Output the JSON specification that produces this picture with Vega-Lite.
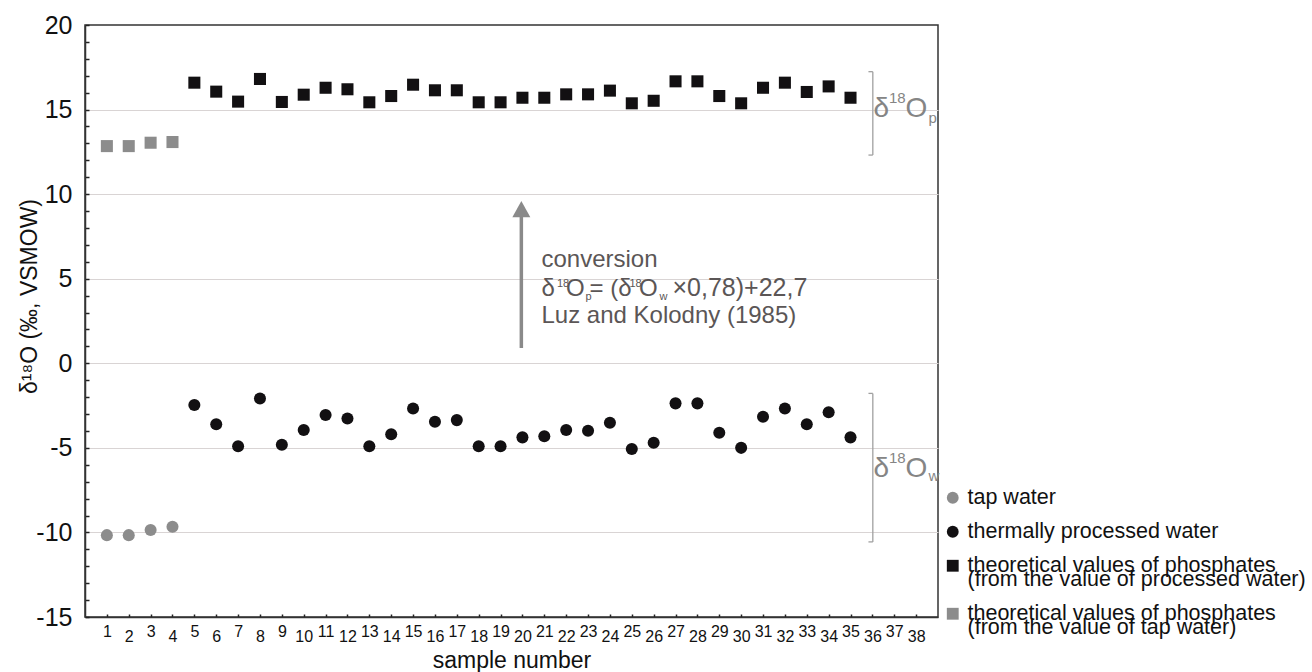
{
  "$schema": "https://vega.github.io/schema/vega-lite/v6.json",
  "width": 853,
  "height": 592,
  "autosize": {"type": "none"},
  "padding": {"left": 85, "top": 25, "right": 374, "bottom": 55},
  "background": "white",
  "config": {
    "font": "Liberation Sans",
    "view": {"stroke": "#333333", "strokeWidth": 1.5},
    "axis": {
      "labelFont": "Liberation Sans",
      "titleFont": "Liberation Sans",
      "labelColor": "#111111",
      "titleColor": "#111111",
      "titleFontWeight": "normal",
      "domainColor": "#333333",
      "domainWidth": 1.5,
      "tickColor": "#222222",
      "gridColor": "#d9d4d4",
      "gridWidth": 1
    },
    "legend": {"labelFont": "Liberation Sans"},
    "style": {"guide-label": {"lineHeight": 14}}
  },
  "layer": [
    {
      "data": {
        "values": [
          {"sample": 1, "value": -10.16, "series": "tap water"},
          {"sample": 2, "value": -10.16, "series": "tap water"},
          {"sample": 3, "value": -9.86, "series": "tap water"},
          {"sample": 4, "value": -9.67, "series": "tap water"},
          {"sample": 5, "value": -2.47, "series": "thermally processed water"},
          {"sample": 6, "value": -3.6, "series": "thermally processed water"},
          {"sample": 7, "value": -4.9, "series": "thermally processed water"},
          {"sample": 8, "value": -2.08, "series": "thermally processed water"},
          {"sample": 9, "value": -4.82, "series": "thermally processed water"},
          {"sample": 10, "value": -3.95, "series": "thermally processed water"},
          {"sample": 11, "value": -3.06, "series": "thermally processed water"},
          {"sample": 12, "value": -3.26, "series": "thermally processed water"},
          {"sample": 13, "value": -4.9, "series": "thermally processed water"},
          {"sample": 14, "value": -4.2, "series": "thermally processed water"},
          {"sample": 15, "value": -2.67, "series": "thermally processed water"},
          {"sample": 16, "value": -3.46, "series": "thermally processed water"},
          {"sample": 17, "value": -3.36, "series": "thermally processed water"},
          {"sample": 18, "value": -4.9, "series": "thermally processed water"},
          {"sample": 19, "value": -4.9, "series": "thermally processed water"},
          {"sample": 20, "value": -4.38, "series": "thermally processed water"},
          {"sample": 21, "value": -4.31, "series": "thermally processed water"},
          {"sample": 22, "value": -3.95, "series": "thermally processed water"},
          {"sample": 23, "value": -3.99, "series": "thermally processed water"},
          {"sample": 24, "value": -3.52, "series": "thermally processed water"},
          {"sample": 25, "value": -5.07, "series": "thermally processed water"},
          {"sample": 26, "value": -4.7, "series": "thermally processed water"},
          {"sample": 27, "value": -2.37, "series": "thermally processed water"},
          {"sample": 28, "value": -2.37, "series": "thermally processed water"},
          {"sample": 29, "value": -4.11, "series": "thermally processed water"},
          {"sample": 30, "value": -5.0, "series": "thermally processed water"},
          {"sample": 31, "value": -3.16, "series": "thermally processed water"},
          {"sample": 32, "value": -2.67, "series": "thermally processed water"},
          {"sample": 33, "value": -3.6, "series": "thermally processed water"},
          {"sample": 34, "value": -2.9, "series": "thermally processed water"},
          {"sample": 35, "value": -4.38, "series": "thermally processed water"},
          {"sample": 5, "value": 16.59, "series": "theoretical values of phosphates (from the value of processed water)"},
          {"sample": 6, "value": 16.06, "series": "theoretical values of phosphates (from the value of processed water)"},
          {"sample": 7, "value": 15.47, "series": "theoretical values of phosphates (from the value of processed water)"},
          {"sample": 8, "value": 16.81, "series": "theoretical values of phosphates (from the value of processed water)"},
          {"sample": 9, "value": 15.45, "series": "theoretical values of phosphates (from the value of processed water)"},
          {"sample": 10, "value": 15.88, "series": "theoretical values of phosphates (from the value of processed water)"},
          {"sample": 11, "value": 16.29, "series": "theoretical values of phosphates (from the value of processed water)"},
          {"sample": 12, "value": 16.2, "series": "theoretical values of phosphates (from the value of processed water)"},
          {"sample": 13, "value": 15.43, "series": "theoretical values of phosphates (from the value of processed water)"},
          {"sample": 14, "value": 15.8, "series": "theoretical values of phosphates (from the value of processed water)"},
          {"sample": 15, "value": 16.47, "series": "theoretical values of phosphates (from the value of processed water)"},
          {"sample": 16, "value": 16.14, "series": "theoretical values of phosphates (from the value of processed water)"},
          {"sample": 17, "value": 16.14, "series": "theoretical values of phosphates (from the value of processed water)"},
          {"sample": 18, "value": 15.43, "series": "theoretical values of phosphates (from the value of processed water)"},
          {"sample": 19, "value": 15.43, "series": "theoretical values of phosphates (from the value of processed water)"},
          {"sample": 20, "value": 15.7, "series": "theoretical values of phosphates (from the value of processed water)"},
          {"sample": 21, "value": 15.7, "series": "theoretical values of phosphates (from the value of processed water)"},
          {"sample": 22, "value": 15.9, "series": "theoretical values of phosphates (from the value of processed water)"},
          {"sample": 23, "value": 15.9, "series": "theoretical values of phosphates (from the value of processed water)"},
          {"sample": 24, "value": 16.12, "series": "theoretical values of phosphates (from the value of processed water)"},
          {"sample": 25, "value": 15.37, "series": "theoretical values of phosphates (from the value of processed water)"},
          {"sample": 26, "value": 15.52, "series": "theoretical values of phosphates (from the value of processed water)"},
          {"sample": 27, "value": 16.67, "series": "theoretical values of phosphates (from the value of processed water)"},
          {"sample": 28, "value": 16.67, "series": "theoretical values of phosphates (from the value of processed water)"},
          {"sample": 29, "value": 15.8, "series": "theoretical values of phosphates (from the value of processed water)"},
          {"sample": 30, "value": 15.37, "series": "theoretical values of phosphates (from the value of processed water)"},
          {"sample": 31, "value": 16.29, "series": "theoretical values of phosphates (from the value of processed water)"},
          {"sample": 32, "value": 16.59, "series": "theoretical values of phosphates (from the value of processed water)"},
          {"sample": 33, "value": 16.04, "series": "theoretical values of phosphates (from the value of processed water)"},
          {"sample": 34, "value": 16.37, "series": "theoretical values of phosphates (from the value of processed water)"},
          {"sample": 35, "value": 15.7, "series": "theoretical values of phosphates (from the value of processed water)"},
          {"sample": 1, "value": 12.84, "series": "\u00a0theoretical values of phosphates (from the value of tap water)"},
          {"sample": 2, "value": 12.84, "series": "\u00a0theoretical values of phosphates (from the value of tap water)"},
          {"sample": 3, "value": 13.04, "series": "\u00a0theoretical values of phosphates (from the value of tap water)"},
          {"sample": 4, "value": 13.08, "series": "\u00a0theoretical values of phosphates (from the value of tap water)"}
        ]
      },
      "mark": {"type": "point", "filled": true, "opacity": 1, "size": 145, "strokeWidth": 0},
      "encoding": {
        "x": {
          "field": "sample",
          "type": "quantitative",
          "scale": {"domain": [0, 39], "nice": false, "zero": false},
          "axis": {
            "values": [1,2,3,4,5,6,7,8,9,10,11,12,13,14,15,16,17,18,19,20,21,22,23,24,25,26,27,28,29,30,31,32,33,34,35,36,37,38],
            "tickCount": 200,
            "format": "d",
            "title": "sample number",
            "titleFontSize": 23,
            "titlePadding": 5,
            "labelFontSize": 16,
            "labelOverlap": false,
            "labelFlush": false,
            "tickSize": -3,
            "tickWidth": 1.5,
            "grid": false,
            "labelPadding": {"condition": {"test": "datum.value % 2 === 0", "value": 14}, "value": 9.5}
          }
        },
        "y": {
          "field": "value",
          "type": "quantitative",
          "scale": {"domain": [-15, 20], "nice": false, "zero": false},
          "axis": {
            "values": [-15,-14,-13,-12,-11,-10,-9,-8,-7,-6,-5,-4,-3,-2,-1,0,1,2,3,4,5,6,7,8,9,10,11,12,13,14,15,16,17,18,19,20],
            "tickCount": 200,
            "labelExpr": "datum.value % 5 === 0 ? '' + datum.value : ''",
            "labelFontSize": 25,
            "labelPadding": 17,
            "labelOverlap": false,
            "labelFlush": false,
            "tickSize": -4,
            "tickWidth": 1.5,
            "grid": true,
            "gridOpacity": {"condition": {"test": "datum.value % 5 === 0 && datum.value > -15 && datum.value < 20", "value": 1}, "value": 0},
            "title": "δ¹⁸O (‰, VSMOW)",
            "titleFontSize": 23,
            "titleY": 271,
            "titleX": -44,
            "titleBaseline": "bottom"
          }
        },
        "color": {
          "field": "series",
          "type": "nominal",
          "scale": {
            "domain": ["tap water", "thermally processed water", "theoretical values of phosphates (from the value of processed water)", "\u00a0theoretical values of phosphates (from the value of tap water)"],
            "range": ["#8c8c8c", "#121012", "#121012", "#8c8c8c"]
          },
          "legend": {
            "orient": "none", "legendX": 857, "legendY": 462, "title": null, "padding": 0,
            "labelFontSize": 21.5, "labelColor": "#111111", "labelLimit": 600, "symbolSize": 140,
            "symbolStrokeWidth": 0, "rowPadding": 11, "labelOffset": 4,
            "labelExpr": "indexof(datum.label, '(') > 0 ? [substring(datum.label, 0, indexof(datum.label, '(') - 1), substring(datum.label, indexof(datum.label, '('))] : datum.label"
          }
        },
        "shape": {
          "field": "series",
          "type": "nominal",
          "scale": {
            "domain": ["tap water", "thermally processed water", "theoretical values of phosphates (from the value of processed water)", "\u00a0theoretical values of phosphates (from the value of tap water)"],
            "range": ["circle", "circle", "square", "square"]
          },
          "legend": {
            "orient": "none", "legendX": 857, "legendY": 462, "title": null, "padding": 0,
            "labelFontSize": 21.5, "labelColor": "#111111", "labelLimit": 600, "symbolSize": 140,
            "symbolStrokeWidth": 0, "rowPadding": 11, "labelOffset": 4,
            "labelExpr": "indexof(datum.label, '(') > 0 ? [substring(datum.label, 0, indexof(datum.label, '(') - 1), substring(datum.label, indexof(datum.label, '('))] : datum.label"
          }
        }
      }
    },
    {
      "data": {"values": [{}]},
      "mark": {"type": "rule", "color": "#8a8a8a", "strokeWidth": 3.5},
      "encoding": {"x": {"datum": 19.95}, "y": {"datum": 0.9}, "y2": {"datum": 8.8}}
    },
    {
      "data": {"values": [{}]},
      "mark": {"type": "point", "filled": true, "opacity": 1, "color": "#8a8a8a", "shape": "M0,-0.9L1,0.9L-1,0.9Z", "size": 324, "strokeWidth": 0},
      "encoding": {"x": {"datum": 19.95}, "y": {"datum": 9.12}}
    },
    {
      "data": {"values": [{"top": 17.24, "bottom": 12.31}, {"top": -1.78, "bottom": -10.56}]},
      "mark": {"type": "rule", "color": "#a0a0a0", "strokeWidth": 1.3},
      "encoding": {"x": {"datum": 36.02}, "y": {"field": "top", "type": "quantitative"}, "y2": {"field": "bottom"}}
    },
    {
      "data": {"values": [{"top": 17.24, "bottom": 12.31}, {"top": -1.78, "bottom": -10.56}]},
      "mark": {"type": "rule", "color": "#a0a0a0", "strokeWidth": 1.3},
      "encoding": {"x": {"datum": 35.82}, "x2": {"datum": 36.02}, "y": {"field": "top", "type": "quantitative"}}
    },
    {
      "data": {"values": [{"top": 17.24, "bottom": 12.31}, {"top": -1.78, "bottom": -10.56}]},
      "mark": {"type": "rule", "color": "#a0a0a0", "strokeWidth": 1.3},
      "encoding": {"x": {"datum": 35.82}, "x2": {"datum": 36.02}, "y": {"field": "bottom", "type": "quantitative"}}
    },
    {
      "data": {"values": [{}]},
      "mark": {"type": "text", "align": "left", "baseline": "alphabetic", "fontSize": 24, "color": "#5b5656"},
      "encoding": {"x": {"datum": 20.87}, "y": {"datum": 5.67}, "text": {"value": "conversion"}}
    },
    {
      "data": {"values": [{}]},
      "mark": {"type": "text", "align": "left", "baseline": "alphabetic", "fontSize": 24, "color": "#5b5656"},
      "encoding": {"x": {"datum": 20.87}, "y": {"datum": 2.4}, "text": {"value": "Luz and Kolodny (1985)"}}
    },
    {
      "data": {"values": [{}]},
      "mark": {"type": "text", "align": "left", "baseline": "alphabetic", "fontSize": 24, "color": "#5b5656", "dx": 0},
      "encoding": {"x": {"datum": 20.87}, "y": {"datum": 3.97}, "text": {"value": "δ"}}
    },
    {
      "data": {"values": [{}]},
      "mark": {"type": "text", "align": "left", "baseline": "alphabetic", "fontSize": 11, "color": "#5b5656", "dx": 15.5, "dy": -9},
      "encoding": {"x": {"datum": 20.87}, "y": {"datum": 3.97}, "text": {"value": "18"}}
    },
    {
      "data": {"values": [{}]},
      "mark": {"type": "text", "align": "left", "baseline": "alphabetic", "fontSize": 24, "color": "#5b5656", "dx": 24.5},
      "encoding": {"x": {"datum": 20.87}, "y": {"datum": 3.97}, "text": {"value": "O"}}
    },
    {
      "data": {"values": [{}]},
      "mark": {"type": "text", "align": "left", "baseline": "alphabetic", "fontSize": 11, "color": "#5b5656", "dx": 44, "dy": 4},
      "encoding": {"x": {"datum": 20.87}, "y": {"datum": 3.97}, "text": {"value": "p"}}
    },
    {
      "data": {"values": [{}]},
      "mark": {"type": "text", "align": "left", "baseline": "alphabetic", "fontSize": 24, "color": "#5b5656", "dx": 48},
      "encoding": {"x": {"datum": 20.87}, "y": {"datum": 3.97}, "text": {"value": "= (δ"}}
    },
    {
      "data": {"values": [{}]},
      "mark": {"type": "text", "align": "left", "baseline": "alphabetic", "fontSize": 11, "color": "#5b5656", "dx": 88, "dy": -9},
      "encoding": {"x": {"datum": 20.87}, "y": {"datum": 3.97}, "text": {"value": "18"}}
    },
    {
      "data": {"values": [{}]},
      "mark": {"type": "text", "align": "left", "baseline": "alphabetic", "fontSize": 24, "color": "#5b5656", "dx": 97.5},
      "encoding": {"x": {"datum": 20.87}, "y": {"datum": 3.97}, "text": {"value": "O"}}
    },
    {
      "data": {"values": [{}]},
      "mark": {"type": "text", "align": "left", "baseline": "alphabetic", "fontSize": 11, "color": "#5b5656", "dx": 118, "dy": 4},
      "encoding": {"x": {"datum": 20.87}, "y": {"datum": 3.97}, "text": {"value": "w"}}
    },
    {
      "data": {"values": [{}]},
      "mark": {"type": "text", "align": "left", "baseline": "alphabetic", "fontSize": 25, "color": "#5b5656", "dx": 131},
      "encoding": {"x": {"datum": 20.87}, "y": {"datum": 3.97}, "text": {"value": "×0,78)+22,7"}}
    },
    {
      "data": {"values": [{"y": 14.54}, {"y": -6.71}]},
      "mark": {"type": "text", "align": "left", "baseline": "alphabetic", "fontSize": 28, "color": "#858585"},
      "encoding": {"x": {"datum": 36.05}, "y": {"field": "y", "type": "quantitative"}, "text": {"value": "δ"}}
    },
    {
      "data": {"values": [{"y": 14.54}, {"y": -6.71}]},
      "mark": {"type": "text", "align": "left", "baseline": "alphabetic", "fontSize": 15, "color": "#858585", "dx": 15.5, "dy": -14},
      "encoding": {"x": {"datum": 36.05}, "y": {"field": "y", "type": "quantitative"}, "text": {"value": "18"}}
    },
    {
      "data": {"values": [{"y": 14.54}, {"y": -6.71}]},
      "mark": {"type": "text", "align": "left", "baseline": "alphabetic", "fontSize": 28, "color": "#858585", "dx": 32},
      "encoding": {"x": {"datum": 36.05}, "y": {"field": "y", "type": "quantitative"}, "text": {"value": "O"}}
    },
    {
      "data": {"values": [{"y": 14.54}]},
      "mark": {"type": "text", "align": "left", "baseline": "alphabetic", "fontSize": 15, "color": "#858585", "dx": 55, "dy": 6},
      "encoding": {"x": {"datum": 36.05}, "y": {"field": "y", "type": "quantitative"}, "text": {"value": "p"}}
    },
    {
      "data": {"values": [{"y": -6.71}]},
      "mark": {"type": "text", "align": "left", "baseline": "alphabetic", "fontSize": 15, "color": "#858585", "dx": 55, "dy": 4},
      "encoding": {"x": {"datum": 36.05}, "y": {"field": "y", "type": "quantitative"}, "text": {"value": "w"}}
    }
  ]
}
